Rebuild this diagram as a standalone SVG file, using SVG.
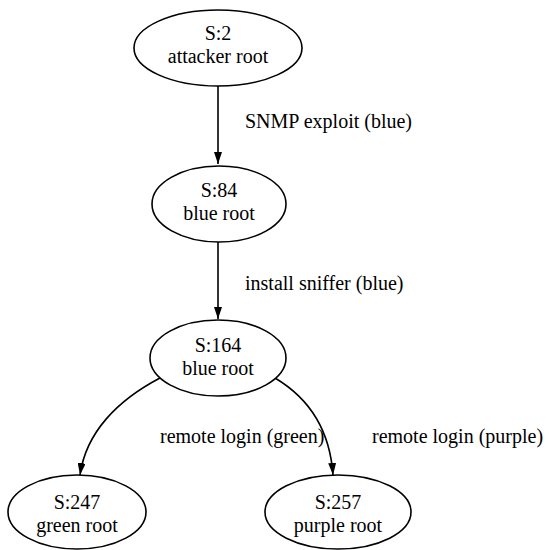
<svg xmlns="http://www.w3.org/2000/svg" width="549" height="550" viewBox="0 0 549 550">
<style>
.node ellipse{fill:#fff;stroke:#000;stroke-width:1.6}
text{font-family:"Liberation Serif","Times New Roman",serif;font-size:20px;fill:#000}
.nt{text-anchor:middle}
.edge{fill:none;stroke:#000;stroke-width:1.6;marker-end:url(#ah)}
</style>
<defs>
<marker id="ah" viewBox="0 0 12 8" refX="12" refY="4" markerWidth="12" markerHeight="8" markerUnits="userSpaceOnUse" orient="auto">
<path d="M0,0 L12,4 L0,8 Z" fill="#000"/>
</marker>
</defs>
<rect width="549" height="550" fill="#fff"/>
<g id="connectors">
<path class="edge" d="M218,86 L218,164"/>
<path class="edge" d="M218,242 L218,319"/>
<path class="edge" d="M160,378 C118,400 86,432 80,475"/>
<path class="edge" d="M275,378 C312,400 330,432 333,475"/>
<text x="245" y="128">SNMP exploit (blue)</text>
<text x="245" y="290">install sniffer (blue)</text>
<text x="160" y="443">remote login (green)</text>
<text x="372" y="443">remote login (purple)</text>
</g>
<g id="n2" class="node">
<ellipse cx="218" cy="48" rx="84" ry="38"/>
<text class="nt" x="218" y="40">S:2</text>
<text class="nt" x="218" y="63">attacker root</text>
</g>
<g id="n84" class="node">
<ellipse cx="219" cy="204" rx="67" ry="38"/>
<text class="nt" x="219" y="197">S:84</text>
<text class="nt" x="219" y="220">blue root</text>
</g>
<g id="n164" class="node">
<ellipse cx="218" cy="358" rx="68" ry="38"/>
<text class="nt" x="218" y="352">S:164</text>
<text class="nt" x="218" y="375">blue root</text>
</g>
<g id="n247" class="node">
<ellipse cx="77" cy="512" rx="69" ry="37"/>
<text class="nt" x="77" y="509">S:247</text>
<text class="nt" x="77" y="532">green root</text>
</g>
<g id="n257" class="node">
<ellipse cx="338" cy="512" rx="73" ry="37"/>
<text class="nt" x="338" y="509">S:257</text>
<text class="nt" x="338" y="532">purple root</text>
</g>
</svg>
